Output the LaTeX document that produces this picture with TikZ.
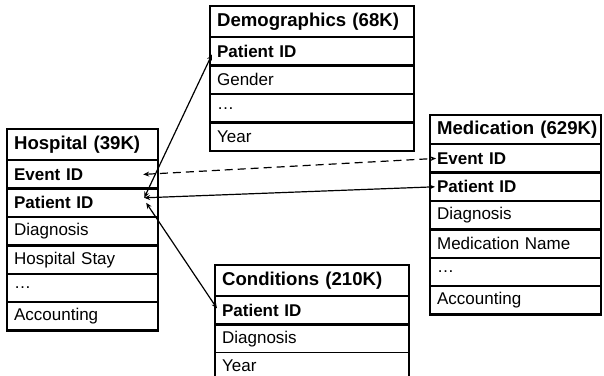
\documentclass[tikz,border=0pt]{standalone}
\usepackage{fontspec}
\setmainfont{Liberation Sans}
\usetikzlibrary{arrows.meta}
\begin{document}
\begin{tikzpicture}[x=1pt,y=-1pt,
  cell/.style={draw, line width=1.2pt, anchor=north west, inner xsep=6.5pt, inner ysep=0pt,
    align=left, minimum height=27.2pt, font=\fontsize{17}{20}\selectfont},
  titlecell/.style={cell, minimum height=30pt, font=\fontsize{18.6}{22}\selectfont\bfseries},
  keycell/.style={cell, font=\fontsize{17}{20}\selectfont\bfseries},
  hw/.style={text width=137pt},
  dw/.style={text width=190pt},
  mw/.style={text width=157pt},
  cw/.style={text width=180pt},
  frame/.style={draw, line width=2.3pt},
  link/.style={line width=1.2pt, {Stealth[length=6pt,width=5pt]}-{Stealth[length=6pt,width=5pt]}},
  dashlink/.style={link, dash pattern=on 8pt off 5pt},
]
\useasboundingbox (0,0) rectangle (604,375);

% Hospital
\node[titlecell, hw] (h0) at (7,129) {\mbox{Hospital (39K)}};
\node[keycell, hw] (hev) at (h0.south west) {Event ID};
\node[keycell, hw] (hpid) at (hev.south west) {Patient ID};
\node[cell, hw] (h3) at (hpid.south west) {Diagnosis};
\node[cell, hw] (h4) at (h3.south west) {Hospital Stay};
\node[cell, hw] (h5) at (h4.south west) {…};
\node[cell, hw] (h6) at (h5.south west) {Accounting};
\draw[frame] (h0.north west) rectangle (h6.south east);

% Demographics
\node[titlecell, dw] (d0) at (210,6) {\mbox{Demographics (68K)}};
\node[keycell, dw] (dpid) at (d0.south west) {Patient ID};
\node[cell, dw] (d2) at (dpid.south west) {Gender};
\node[cell, dw] (d3) at (d2.south west) {…};
\node[cell, dw] (d4) at (d3.south west) {Year};
\draw[frame] (d0.north west) rectangle (d4.south east);

% Medication
\node[titlecell, mw, minimum height=28pt] (m0) at (430,115) {\mbox{Medication (629K)}};
\node[keycell, mw] (mev) at (m0.south west) {Event ID};
\node[keycell, mw] (mpid) at (mev.south west) {Patient ID};
\node[cell, mw] (m3) at (mpid.south west) {Diagnosis};
\node[cell, mw] (m4) at (m3.south west) {Medication Name};
\node[cell, mw] (m5) at (m4.south west) {…};
\node[cell, mw] (m6) at (m5.south west) {Accounting};
\draw[frame] (m0.north west) rectangle (m6.south east);

% Conditions
\node[titlecell, cw] (c0) at (215,265) {\mbox{Conditions (210K)}};
\node[keycell, cw] (cpid) at (c0.south west) {Patient ID};
\node[cell, cw] (c2) at (cpid.south west) {Diagnosis};
\node[cell, cw, draw=none, minimum height=25pt] (c3) at (c2.south west) {Year};
\draw[frame] ([yshift=-6pt]c3.south west) -- (c0.north west) -- (c0.north east) -- ([yshift=-6pt]c3.south east);

% connector ends
\coordinate (hE) at ([xshift=-15pt]hev.east);
\coordinate (hP) at ([xshift=-14pt,yshift=5pt]hpid.east);
\coordinate (hPc) at ([xshift=-12pt]hpid.east);
\coordinate (dP) at ([xshift=2pt,yshift=-3pt]dpid.west);
\coordinate (mE) at ([xshift=6pt]mev.west);
\coordinate (mP) at ([xshift=5pt]mpid.west);
\coordinate (cP) at ([xshift=2pt,yshift=2pt]cpid.west);

\draw[link] (hP) -- (dP);
\draw[dashlink] (hE) -- (mE);
\draw[link] (hP) -- (mP);
\draw[link] (hPc) -- (cP);
\end{tikzpicture}
\end{document}
